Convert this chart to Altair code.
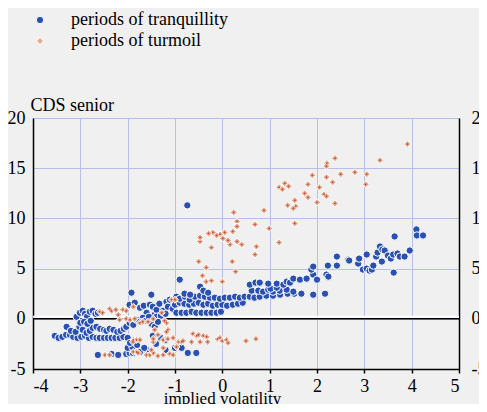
import altair as alt
import pandas as pd

# ---- data ----
tranq_x = [
    -3.54, -3.46, -3.38, -3.30, -3.22, -3.15, -3.06, -2.98, -2.90, -2.82, -2.74, -2.66, -2.59, -2.50, -2.42, -2.34, -2.26, -2.17, -2.09, -2.00,
    -3.29, -3.20, -3.10, -3.02, -2.95, -2.87, -2.80, -2.74, -2.66, -2.58, -2.50, -2.45, -2.38, -2.30, -2.22, -2.15, -2.08, -2.03, -1.96, -1.88, -1.81,
    -3.08, -3.01, -2.95, -2.90, -2.86, -2.80, -2.74, -2.68, -2.63, -3.00, -2.92, -2.85, -2.78,
    -1.96, -1.85, -1.74, -1.66, -1.60, -1.53, -1.47, -1.43, -1.39, -1.33, -1.29, -1.25, -1.18, -1.11, -1.68, -1.75, -1.62, -1.55, -1.39, -1.30, -1.50, -1.43, -1.36, -1.20, -1.15, -1.05, -0.97, -1.92, -1.50,
    -0.97, -0.86, -0.76, -0.65, -0.55, -0.44, -0.33, -0.23, -0.12, -0.03,
    -1.00, -0.90, -0.80, -0.70, -0.60, -0.50, -0.40, -0.30, -0.20, -0.10, 0.00, 0.10, 0.22, 0.33, 0.43,
    -0.90, -0.79, -0.69, -0.58, -0.47, -0.37, -0.26, -0.16, -0.05, 0.05, 0.16, 0.27, 0.37, 0.47, 0.58, 0.68, 0.79, 0.93, 1.07, 1.22, 1.38, 1.52, 1.67, 1.92, 2.17,
    -0.80, -0.68, -0.47, -0.40, -0.30, 0.62, 0.76, 0.86, 0.97, 1.07, 1.21, 1.36, 1.50, 1.02, 1.15,
    0.58, 0.70, 0.79, 0.97, 1.15, 1.29, 1.36, 1.43, 1.50, 1.64, 1.78, 1.92, 2.00, 2.20, 2.24, -0.90,
    1.88, 1.92, 2.23, 2.42, 2.42, 2.66, 2.68, 2.87, 2.89, 2.97, 3.05, 3.05, 3.11, 3.16, 3.19, 3.25, 3.28, 3.33, 3.37, 3.38, 3.43, 3.50, 3.56, 3.61, 3.62, 3.64, 3.70, 3.75, 3.85, 3.96, 4.10, 4.11, 4.24,
    -2.63, -2.34, -2.20, -2.03, -1.96, -1.89, -1.74, -1.60, -2.00, -1.90, -1.95, -1.80, -1.65, -1.40, -1.30, -1.20, -1.20, -1.00, -0.86, -0.73, -0.55, -1.47,
    -0.74,
]
tranq_y = [
    -1.7, -1.9, -1.8, -1.6, -1.6, -1.8, -1.9, -1.8, -1.7, -1.9, -1.8, -1.9, -1.9, -1.9, -1.9, -1.9, -1.9, -1.9, -1.8, -1.9,
    -0.8, -1.2, -1.3, -0.8, -1.1, -1.4, -1.2, -0.9, -0.8, -1.0, -1.1, -1.2, -1.0, -1.1, -1.3, -1.2, -1.0, -0.8, -0.4, -0.6, -0.1,
    0.2, 0.6, 0.8, 0.5, 0.2, 0.7, 0.8, 0.5, 0.6, -0.4, -0.3, -0.5, -0.2,
    1.4, 1.6, 1.1, 1.3, 0.6, 1.4, 1.2, 0.4, 0.9, 1.5, 0.1, 0.8, 1.7, 1.9, 0.1, -0.3, -0.2, 0.2, 0.2, 0.3, -0.5, -0.8, -0.3, 0.5, 1.2, 1.0, 2.2, 2.6, 2.4,
    0.6, 0.6, 0.6, 0.7, 0.6, 0.6, 0.6, 0.6, 0.6, 0.7,
    1.4, 1.6, 1.5, 1.4, 1.5, 1.6, 1.4, 1.5, 1.3, 1.4, 1.4, 1.3, 1.4, 1.5, 1.6,
    2.0, 2.2, 1.9, 2.2, 2.3, 2.2, 2.1, 2.1, 2.0, 2.1, 2.1, 2.2, 2.1, 2.2, 2.2, 2.1, 2.2, 2.3, 2.3, 2.4, 2.5, 2.5, 2.5, 2.4, 2.5,
    2.5, 2.4, 3.2, 2.8, 2.6, 2.8, 2.8, 2.7, 2.9, 2.7, 2.8, 2.9, 2.7, 3.0, 3.1,
    3.4, 3.6, 3.6, 3.5, 3.5, 3.4, 3.7, 3.6, 4.0, 3.9, 4.0, 4.4, 3.9, 4.4, 4.2, 3.9,
    4.9, 5.2, 5.3, 6.2, 5.3, 5.9, 5.8, 5.5, 6.0, 4.9, 6.4, 5.0, 4.8, 4.9, 5.3, 6.2, 6.6, 7.2, 5.7, 6.9, 6.8, 6.3, 6.0, 6.4, 4.6, 8.2, 6.5, 6.2, 6.2, 6.8, 8.9, 8.3, 8.3,
    -3.6, -3.5, -3.6, -3.5, -3.4, -3.4, -3.3, -3.1, -2.9, -2.8, -2.4, -2.6, -2.9, -2.5, -1.9, -2.1, -3.1, -2.9, -2.9, -3.4, -3.4, -1.7,
    11.3,
]

turm_x = [
    3.91, 3.33, 2.38, 2.21, 2.20, 2.50, 2.80, 3.05, 3.03, 1.90, 2.20, 2.33, 2.05, 1.81, 1.74, 1.81, 2.15, 2.20, 2.00, 2.38,
    1.32, 1.20, 1.27, 1.40, 1.53, 1.55, 1.50, 1.38, 1.53, 0.88, 0.99, 1.20, 0.69, 0.72, 0.69,
    0.24, 0.31, 0.31, 0.22, 0.31, 0.41, 0.16, 0.12, 0.05, -0.05, -0.12, 0.01, -0.20, -0.29, -0.47, -0.47, -0.23,
    0.21, 0.28, -0.50, -0.34, -0.42, -0.34, -0.23, 0.00,
    -2.59, -2.53, -2.38, -2.34, -2.25, -2.10, -2.03, -2.20, -2.17, -2.03, -1.95, -1.88, -1.85, -1.74, -1.68, -1.57, -1.46, -1.28, -1.18, -1.22, -1.07, -1.00, -1.43, -1.15, -1.18, -1.36,
    -1.88, -1.81, -1.74, -1.89, -1.46, -1.46, -1.25, -1.15, -1.04, -0.92, -0.86, -0.83, -0.65, -0.62, -0.54, -0.50, -0.47, -0.40, -0.33, -0.31, -0.10, -0.05, 0.00, 0.09, 0.12, 0.50, 0.71,
    -2.48, -2.38, -1.88, -1.81, -1.78, -1.60, -1.53, -1.46, -1.36, -1.25, -1.11, -1.04, -0.97, -1.50, -1.25,
]
turm_y = [
    17.4, 15.8, 16.0, 15.5, 15.2, 14.4, 14.6, 14.4, 13.4, 14.3, 14.1, 13.6, 13.1, 13.4, 12.5, 12.1, 12.4, 12.2, 11.6, 11.5,
    13.5, 13.1, 12.9, 13.2, 11.8, 11.2, 11.0, 11.3, 9.5, 10.8, 9.0, 7.6, 9.4, 7.2, 6.4,
    10.6, 9.7, 9.2, 8.7, 7.7, 7.4, 7.4, 7.8, 8.6, 8.4, 8.3, 8.0, 8.6, 8.5, 7.7, 8.1, 7.1,
    5.7, 4.7, 5.7, 5.1, 4.3, 3.7, 3.8, 3.7,
    0.7, 0.6, 1.0, 0.8, 0.9, 0.9, 0.8, 0.4, -0.1, 0.0, -0.1, 1.2, 0.0, -0.4, -0.3, -0.3, 0.0, 0.6, -0.4, -0.2, 1.9, 1.9, -1.1, -1.1, -1.3, -1.6,
    -2.1, -2.1, -2.1, -2.3, -2.3, -2.0, -2.1, -2.0, -1.9, -2.3, -2.3, -2.2, -2.3, -1.5, -1.7, -1.6, -2.3, -1.7, -1.8, -2.3, -2.0, -1.9, -2.2, -2.1, -2.4, -2.2, -2.0,
    -3.6, -3.6, -3.3, -3.3, -3.4, -3.6, -3.6, -3.4, -3.7, -3.6, -3.5, -3.6, -2.8, -3.1, -2.9,
]

series_names = ["periods of tranquillity", "periods of turmoil"]
x_ticks = [-4, -3, -2, -1, 0, 1, 2, 3, 4, 5]
y_ticks = [-5, 0, 5, 10, 15, 20]
zero_line = [0]

# ---- styling ----
BLUE = "#2a50b2"
ORANGE = "#e4a98e"
DARK = "#c24a33"
GRID = "#b9bde9"
FONT = "serif"
FS = 18

df = pd.DataFrame({
    "x": tranq_x + turm_x,
    "y": tranq_y + turm_y,
    "series": [series_names[0]] * len(tranq_x) + [series_names[1]] * len(turm_x),
})
df_turm = pd.DataFrame({"x": turm_x, "y": turm_y})
zero_df = pd.DataFrame({"y": zero_line})

xs = alt.Scale(domain=[-4, 5], nice=False, zero=False)
ys = alt.Scale(domain=[-5, 20], nice=False, zero=False)
lab = "'' + datum.value"
font_kw = dict(labelFont=FONT, labelFontSize=FS, labelColor="black",
               titleFont=FONT, titleFontSize=FS, titleFontWeight="normal", titleColor="black")

x_axis = alt.Axis(values=x_ticks, grid=True, tickSize=4, labelPadding=4, labelExpr=lab,
                  title="implied volatility", titleX=189, titleY=21, titleBaseline="top",
                  **{**font_kw, "titleFontSize": 17})
left_axis = alt.Axis(values=y_ticks, grid=True, ticks=False, labelPadding=8, labelExpr=lab,
                     title="CDS senior", titleAngle=0, titleAlign="left", titleX=-3, titleY=-8,
                     titleBaseline="alphabetic", **font_kw)
right_axis = alt.Axis(orient="right", values=y_ticks, grid=False, ticks=False, labelPadding=12,
                      labelExpr=lab, title=None, **font_kw)

white_rule = alt.Chart(zero_df).mark_rule(color="white", strokeWidth=2, yOffset=-2).encode(
    y=alt.Y("y:Q", scale=ys, axis=None))
black_rule = alt.Chart(zero_df).mark_rule(color="black", strokeWidth=1.5).encode(
    y=alt.Y("y:Q", scale=ys, axis=right_axis))

legend = alt.Legend(title=None, orient="none", legendX=-2, legendY=-107, padding=0,
                    labelOffset=22, rowPadding=3, symbolSize=50, symbolStrokeColor="white",
                    symbolStrokeWidth=1, labelFont=FONT, labelFontSize=FS, labelColor="black")

points = alt.Chart(df).mark_point(filled=True, opacity=1, stroke="white", strokeWidth=1).encode(
    x=alt.X("x:Q", scale=xs, axis=x_axis),
    y=alt.Y("y:Q", scale=ys, axis=left_axis),
    color=alt.Color("series:N", scale=alt.Scale(domain=series_names, range=[BLUE, ORANGE]), legend=legend),
    shape=alt.Shape("series:N", scale=alt.Scale(domain=series_names, range=["circle", "diamond"]), legend=legend),
    size=alt.Size("series:N", scale=alt.Scale(domain=series_names, range=[54, 50]), legend=None),
)

centers = alt.Chart(df_turm).mark_point(filled=True, opacity=1, size=5, shape="diamond", color=DARK).encode(
    x=alt.X("x:Q", scale=xs),
    y=alt.Y("y:Q", scale=ys, axis=None),
)

chart = alt.layer(white_rule, black_rule, points, centers).resolve_scale(y="independent").properties(
    width=426, height=251, autosize="none",
    padding={"left": 25, "top": 110, "right": 20, "bottom": 35},
).configure(background="#f0f0f0", font=FONT).configure_view(stroke=None).configure_axis(
    labelFont=FONT, titleFont=FONT,
    gridColor=GRID, gridWidth=1, domainColor="black", domainWidth=1.5,
    tickColor="black", tickWidth=1.5,
).configure_legend(labelFont=FONT, labelFontSize=FS)

chart.save("out.html", embed_options={"renderer": "svg", "actions": False})
